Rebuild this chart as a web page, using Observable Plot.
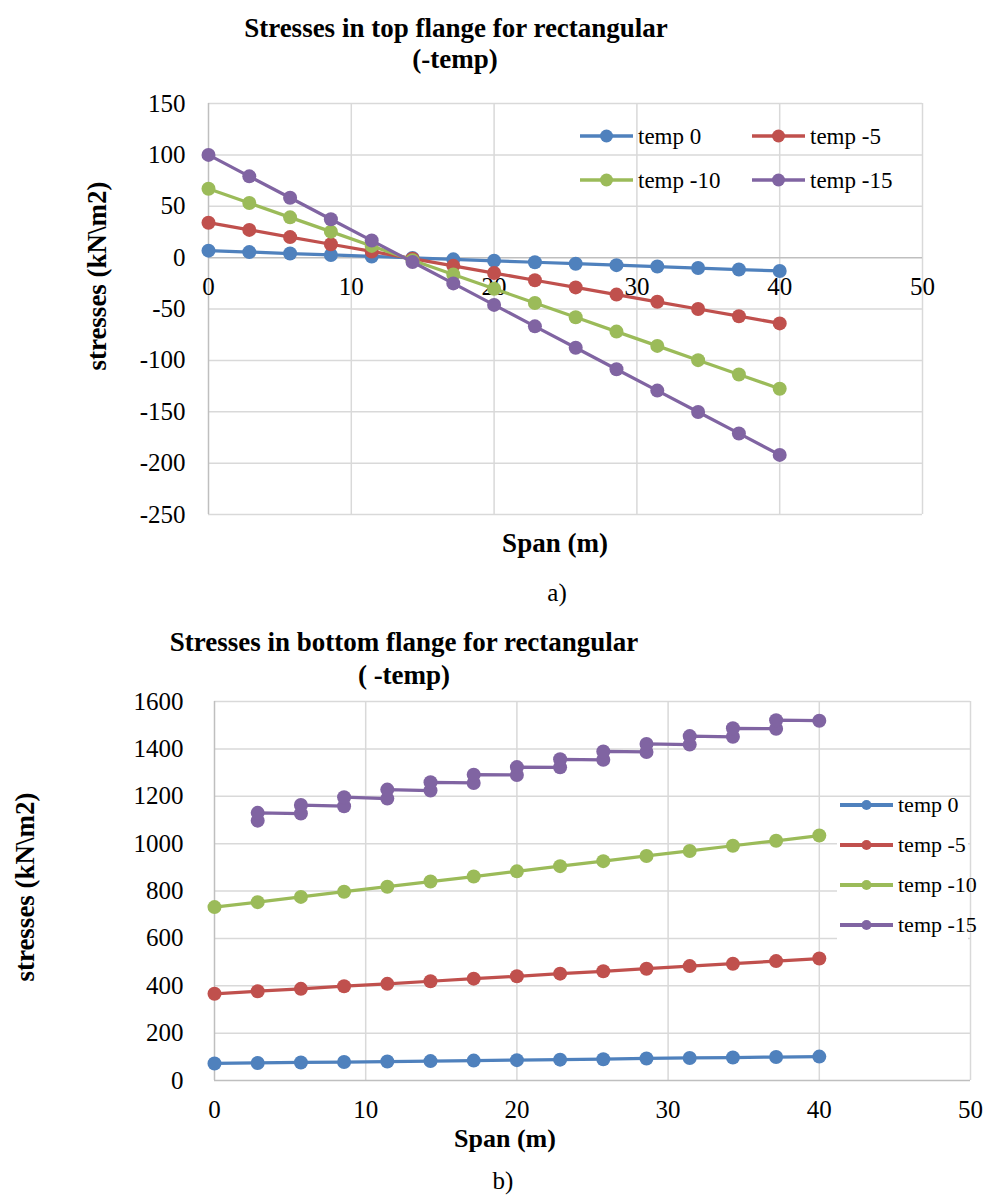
<!DOCTYPE html>
<html>
<head>
<meta charset="utf-8">
<script src="https://cdn.jsdelivr.net/npm/d3@7"></script>
<script src="https://cdn.jsdelivr.net/npm/@observablehq/plot@0.6"></script>
<style>
  html, body { margin: 0; padding: 0; background: #fff; }
  #root { position: relative; width: 984px; height: 1199px; overflow: hidden; font-family: "Liberation Serif", "Times New Roman", serif; color: #000; }
  .lbl { position: absolute; white-space: nowrap; line-height: 1; transform: translate(-50%, -50%); }
  .b { font-weight: bold; }
  .svgwrap { position: absolute; left: 0; }
  .leg { position: absolute; display: flex; align-items: center; white-space: nowrap; line-height: 1; }
</style>
</head>
<body>
<div id="root"></div>
<script>
// ---------- data ----------
const seriesNames = ["temp 0", "temp -5", "temp -10", "temp -15"];
const seriesColors = ["#4F81BD", "#C0504D", "#9BBB59", "#8064A2"];

const spanX = [0, 2.857, 5.714, 8.571, 11.429, 14.286, 17.143, 20, 22.857, 25.714, 28.571, 31.429, 34.286, 37.143, 40];

// (a) top flange
const topTemp0   = [6.8, 5.4, 4.0, 2.6, 1.1, -0.3, -1.7, -3.1, -4.5, -5.9, -7.3, -8.7, -10.1, -11.6, -13.0];
const topTemp5   = [34, 27, 20, 13, 6, -1, -8, -15, -22, -29, -36, -43, -50, -57, -64];
const topTemp10  = [67, 53.1, 39.2, 25.3, 11.4, -2.5, -16.4, -30.3, -44.2, -58.1, -72, -85.9, -99.8, -113.7, -127.6];
const topTemp15  = [100, 79.1, 58.3, 37.4, 16.6, -4.3, -25.1, -46, -66.9, -87.7, -108.6, -129.4, -150.3, -171.1, -192];
const topYTicks  = [-250, -200, -150, -100, -50, 0, 50, 100, 150];
const topXTicks  = [0, 10, 20, 30, 40, 50];

// (b) bottom flange
const botTemp0   = [72, 74, 76, 78, 80, 82, 84, 86, 88, 90, 93, 95, 97, 99, 101];
const botTemp5   = [366, 377, 387, 398, 408, 419, 430, 440, 451, 461, 472, 483, 493, 504, 515];
const botTemp10  = [732, 753, 775, 797, 818, 840, 861, 883, 905, 926, 948, 969, 991, 1012, 1034];
const botTemp15X = [2.857, 2.857, 5.714, 5.714, 8.571, 8.571, 11.429, 11.429, 14.286, 14.286, 17.143, 17.143, 20, 20, 22.857, 22.857, 25.714, 25.714, 28.571, 28.571, 31.429, 31.429, 34.286, 34.286, 37.143, 37.143, 40];
const botTemp15Y = [1097, 1130, 1127, 1163, 1158, 1196, 1190, 1228, 1224, 1259, 1256, 1291, 1290, 1323, 1322, 1356, 1354, 1389, 1387, 1421, 1418, 1454, 1451, 1487, 1485, 1521, 1519];
const botYTicks  = [0, 200, 400, 600, 800, 1000, 1200, 1400, 1600];
const botXTicks  = [0, 10, 20, 30, 40, 50];

// ---------- helpers ----------
const root = document.getElementById("root");
function label(text, x, y, size, bold, rotate) {
  const d = document.createElement("div");
  d.className = "lbl" + (bold ? " b" : "");
  d.textContent = text;
  d.style.left = x + "px";
  d.style.top = y + "px";
  d.style.fontSize = size + "px";
  if (rotate) d.style.transform = "translate(-50%, -50%) rotate(-90deg)";
  root.appendChild(d);
}
function legendItem(name, color, x, y, lineLen, r, sw, fs) {
  const d = document.createElement("div");
  d.className = "leg";
  d.style.left = x + "px";
  d.style.top = (y - 14) + "px";
  d.style.height = "28px";
  d.style.fontSize = fs + "px";
  const h = 28;
  d.innerHTML = `<svg width="${lineLen}" height="${h}" style="margin-right:5px;overflow:visible">
      <line x1="0" x2="${lineLen}" y1="${h/2}" y2="${h/2}" stroke="${color}" stroke-width="${sw}"/>
      <circle cx="${lineLen/2}" cy="${h/2}" r="${r}" fill="${color}"/></svg><span>${name}</span>`;
  root.appendChild(d);
}
function rows(xArr, yArr, name) {
  return xArr.map((x, j) => ({ series: name, x, y: yArr[j] }));
}
const grid = "#d9d9d9", axisCol = "#bfbfbf";
const baseStyle = { fontFamily: "Liberation Serif, Times New Roman, serif", fontSize: "25px", color: "#000", background: "transparent", overflow: "visible" };

// ---------- chart (a) ----------
const topData = [topTemp0, topTemp5, topTemp10, topTemp15].map((v, i) => rows(spanX, v, seriesNames[i]));
const topSeriesMarks = topData.flatMap((d) => [
  Plot.line(d, { x: "x", y: "y", stroke: "series", strokeWidth: 3.25 }),
  Plot.dot(d, { x: "x", y: "y", fill: "series", r: 7 })
]);
const topPlot = Plot.plot({
  width: 984, height: 530,
  marginTop: 103, marginBottom: 16, marginLeft: 208, marginRight: 62,
  x: { domain: [0, 50], axis: null },
  y: { domain: [-250, 150], axis: null },
  color: { domain: seriesNames, range: seriesColors },
  style: baseStyle,
  marks: [
    Plot.ruleY(topYTicks.filter(d => d !== 0), { stroke: grid, strokeWidth: 1.5 }),
    Plot.ruleX(topXTicks.filter(d => d !== 0), { stroke: grid, strokeWidth: 1.5 }),
    Plot.ruleY([0], { stroke: axisCol, strokeWidth: 1.5 }),
    Plot.ruleX([0], { stroke: axisCol, strokeWidth: 1.5 }),
    Plot.text(topYTicks, { x: () => 0, y: d => d, dx: -23, textAnchor: "end", text: d => String(d), fontSize: 25, fill: "#000" }),
    Plot.text(topXTicks, { x: d => d, y: () => 0, dy: 29, text: d => String(d), fontSize: 25, fill: "#000" }),
    ...topSeriesMarks
  ]
});
const w1 = document.createElement("div");
w1.className = "svgwrap"; w1.style.top = "0px";
w1.appendChild(topPlot);
root.appendChild(w1);

label("Stresses in top flange for rectangular", 456, 28, 27, true);
label("(-temp)", 455, 59, 27, true);
label("stresses (kN\\m2)", 97, 276, 27, true, true);
label("Span (m)", 555, 543, 27, true);
label("a)", 557, 592, 25, false);

legendItem(seriesNames[0], seriesColors[0], 580, 136, 53, 6.5, 3.5, 23);
legendItem(seriesNames[1], seriesColors[1], 752, 136, 53, 6.5, 3.5, 23);
legendItem(seriesNames[2], seriesColors[2], 580, 180, 53, 6.5, 3.5, 23);
legendItem(seriesNames[3], seriesColors[3], 752, 180, 53, 6.5, 3.5, 23);

// ---------- chart (b) ----------
const botData = [
  rows(spanX, botTemp0, seriesNames[0]),
  rows(spanX, botTemp5, seriesNames[1]),
  rows(spanX, botTemp10, seriesNames[2]),
  rows(botTemp15X, botTemp15Y, seriesNames[3])
];
const botSeriesMarks = botData.flatMap((d) => [
  Plot.line(d, { x: "x", y: "y", stroke: "series", strokeWidth: 3.25 }),
  Plot.dot(d, { x: "x", y: "y", fill: "series", r: 7 })
]);
const botTop = 680;
const botPlot = Plot.plot({
  width: 984, height: 450,
  marginTop: 701 - botTop, marginBottom: botTop + 450 - 1080, marginLeft: 214, marginRight: 14,
  x: { domain: [0, 50], axis: null },
  y: { domain: [0, 1600], axis: null },
  color: { domain: seriesNames, range: seriesColors },
  style: baseStyle,
  marks: [
    Plot.ruleY(botYTicks.filter(d => d !== 0), { stroke: grid, strokeWidth: 1.5 }),
    Plot.ruleX(botXTicks.filter(d => d !== 0), { stroke: grid, strokeWidth: 1.5 }),
    Plot.ruleY([0], { stroke: axisCol, strokeWidth: 1.5 }),
    Plot.ruleX([0], { stroke: axisCol, strokeWidth: 1.5 }),
    Plot.text(botYTicks, { x: () => 0, y: d => d, dx: -31, textAnchor: "end", text: d => String(d), fontSize: 25, fill: "#000" }),
    Plot.text(botXTicks, { x: d => d, y: () => 0, dy: 29, text: d => String(d), fontSize: 25, fill: "#000" }),
    ...botSeriesMarks
  ]
});
const w2 = document.createElement("div");
w2.className = "svgwrap"; w2.style.top = botTop + "px";
w2.appendChild(botPlot);
root.appendChild(w2);

// legend background (covers gridlines)
const bg = document.createElement("div");
bg.style.cssText = "position:absolute;left:837px;top:798px;width:131px;height:150px;background:#fff;";
root.appendChild(bg);

label("Stresses in bottom flange for rectangular", 404, 642, 27, true);
label("( -temp)", 404, 675, 27, true);
label("stresses (kN\\m2)", 25, 887, 27, true, true);
label("Span (m)", 505, 1139, 26, true);
label("b)", 503, 1180, 25, false);

legendItem(seriesNames[0], seriesColors[0], 840, 805, 53, 5, 4, 22);
legendItem(seriesNames[1], seriesColors[1], 840, 845, 53, 5, 4, 22);
legendItem(seriesNames[2], seriesColors[2], 840, 885, 53, 5, 4, 22);
legendItem(seriesNames[3], seriesColors[3], 840, 925, 53, 5, 4, 22);
</script>
</body>
</html>
